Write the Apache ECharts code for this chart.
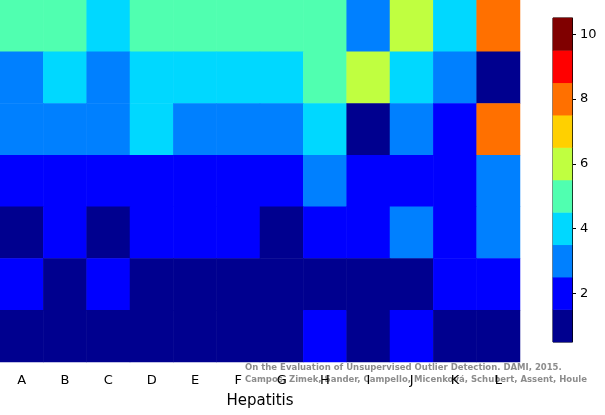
<!DOCTYPE html>
<html>
<head>
<meta charset="UTF-8">
<script src="https://cdn.jsdelivr.net/npm/echarts@6/dist/echarts.min.js"></script>
<style>
  body { margin: 0; }
  #chart { width: 605px; height: 415px; }
</style>
</head>
<body>
<div id="chart"></div>
<script>
var columns = ['A', 'B', 'C', 'D', 'E', 'F', 'G', 'H', 'I', 'J', 'K', 'L'];
// rows listed top to bottom
var rows = [
    [5, 5, 4, 5, 5, 5, 5, 5, 3, 6, 4, 8],
    [3, 4, 3, 4, 4, 4, 4, 5, 6, 4, 3, 1],
    [3, 3, 3, 4, 3, 3, 3, 4, 1, 3, 2, 8],
    [2, 2, 2, 2, 2, 2, 2, 3, 2, 2, 2, 3],
    [1, 2, 1, 2, 2, 2, 1, 2, 2, 3, 2, 3],
    [2, 1, 2, 1, 1, 1, 1, 1, 1, 1, 2, 2],
    [1, 1, 1, 1, 1, 1, 1, 2, 1, 2, 1, 1]
];
var levels = ['1', '2', '3', '4', '5', '6', '7', '8', '9', '10'];
var palette = ['#00008f', '#0000ff', '#0080ff', '#00d8ff', '#50ffb0',
               '#c0ff40', '#ffd000', '#ff7000', '#ff0000', '#800000'];

var cells = [];
var nRows = rows.length;
rows.forEach(function (r, i) {
    r.forEach(function (v, j) {
        cells.push([j, nRows - 1 - i, v]);
    });
});
var barCells = levels.map(function (l, k) { return [0, k, k + 1]; });
var evenOnly = function (idx) { return idx % 2 === 1; };

var chart = echarts.init(document.getElementById('chart'));
chart.setOption({
    animation: false,
    grid: [
        { left: 0, top: 0, width: 520, height: 362 },
        { left: 553, top: 18, width: 19, height: 324 }
    ],
    xAxis: [
        { type: 'category', data: columns, gridIndex: 0, name: 'Hepatitis',
          nameLocation: 'middle', nameGap: 32,
          nameTextStyle: { fontSize: 15, color: '#000', fontFamily: 'DejaVu Sans' },
          axisLine: { show: false }, axisTick: { show: false },
          axisLabel: { color: '#000', fontSize: 13, margin: 12, fontFamily: 'DejaVu Sans' } },
        { type: 'category', data: [''], gridIndex: 1, show: false }
    ],
    yAxis: [
        { type: 'category', data: ['1','2','3','4','5','6','7'], gridIndex: 0, show: false },
        { type: 'category', data: levels, gridIndex: 1, position: 'right',
          axisLine: { show: true, lineStyle: { color: '#000' } },
          axisTick: { show: true, alignWithLabel: true, length: 4, interval: evenOnly,
                      lineStyle: { color: '#000' } },
          axisLabel: { color: '#000', fontSize: 13, margin: 8, fontFamily: 'DejaVu Sans',
                       interval: evenOnly } }
    ],
    visualMap: {
        show: false, type: 'piecewise', dimension: 2,
        pieces: palette.map(function (c, k) { return { value: k + 1, color: c }; })
    },
    series: [
        { type: 'heatmap', data: cells, xAxisIndex: 0, yAxisIndex: 0 },
        { type: 'heatmap', data: barCells, xAxisIndex: 1, yAxisIndex: 1 }
    ],
    graphic: [
        { type: 'rect', shape: { x: 553, y: 18, width: 19, height: 324 },
          style: { fill: 'none', stroke: '#000', lineWidth: 1 } },
        { type: 'text', left: 245, top: 362,
          style: { text: 'On the Evaluation of Unsupervised Outlier Detection. DAMI, 2015.\nCampos, Zimek, Sander, Campello, Micenková, Schubert, Assent, Houle',
                   fill: 'rgba(120,120,120,0.85)', font: 'bold 8.5px DejaVu Sans', lineHeight: 12 } }
    ]
});
</script>
</body>
</html>
